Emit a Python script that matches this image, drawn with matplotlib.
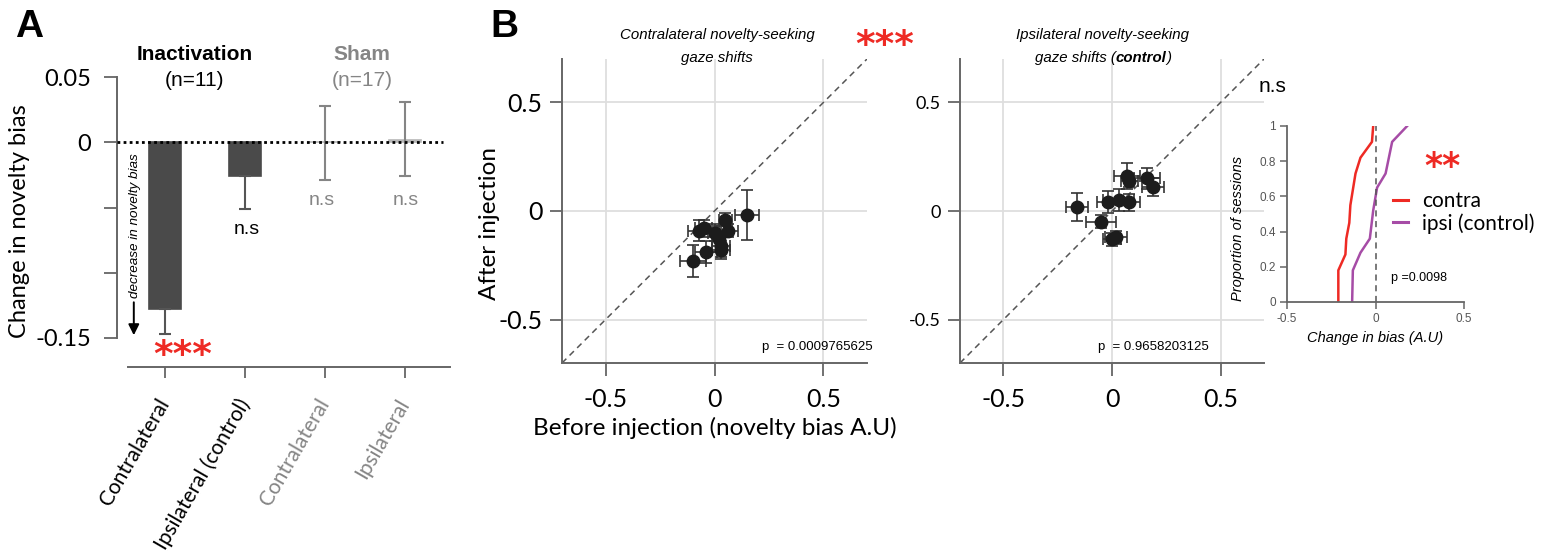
import matplotlib
matplotlib.use('Agg')
import matplotlib.pyplot as plt
from matplotlib import font_manager
from matplotlib.lines import Line2D
import numpy as np

# ---------------- data ----------------
bar_labels = ['Contralateral', 'Ipsilateral (control)', 'Contralateral', 'Ipsilateral']
bar_mean = [-0.128, -0.026, 0.0, 0.002]
bar_err_lo = [0.019, 0.025, 0.029, 0.028]
bar_err_hi = [0.0, 0.0, 0.028, 0.029]

contra_before = [0.15, -0.10, -0.04, -0.07, -0.05, 0.05, 0.06, 0.03, 0.03, 0.00, 0.02]
contra_after = [-0.02, -0.23, -0.19, -0.09, -0.08, -0.04, -0.09, -0.16, -0.18, -0.10, -0.13]
contra_xerr = [0.055, 0.06, 0.05, 0.05, 0.04, 0.03, 0.05, 0.04, 0.04, 0.03, 0.03]
contra_yerr = [0.115, 0.075, 0.05, 0.05, 0.04, 0.03, 0.03, 0.05, 0.04, 0.04, 0.06]

ipsi_before = [-0.16, -0.02, 0.03, 0.08, -0.05, 0.07, 0.16, 0.19, 0.00, 0.02, 0.08]
ipsi_after = [0.02, 0.04, 0.05, 0.04, -0.05, 0.16, 0.15, 0.11, -0.13, -0.12, 0.14]
ipsi_xerr = [0.05, 0.05, 0.07, 0.05, 0.07, 0.06, 0.06, 0.05, 0.04, 0.05, 0.04]
ipsi_yerr = [0.065, 0.05, 0.05, 0.04, 0.03, 0.06, 0.05, 0.04, 0.03, 0.03, 0.03]

cdf_contra_x = [-0.21, -0.21, -0.17, -0.165, -0.148, -0.142, -0.113, -0.085, -0.02, -0.013]
cdf_contra_y = [0.0, 0.18, 0.27, 0.36, 0.45, 0.55, 0.73, 0.82, 0.91, 1.0]
cdf_ipsi_x = [-0.132, -0.128, -0.085, -0.032, -0.013, 0.009, 0.057, 0.094, 0.179]
cdf_ipsi_y = [0.0, 0.18, 0.28, 0.36, 0.52, 0.65, 0.73, 0.91, 1.0]

p_contra = 'p  = 0.0009765625'
p_ipsi = 'p  = 0.9658203125'
p_cdf = 'p =0.0098'

# ---------------- setup ----------------
names = {f.name for f in font_manager.fontManager.ttflist}
NARROW = 'Liberation Sans Narrow' if 'Liberation Sans Narrow' in names else 'Liberation Sans'
ARIAL = 'Liberation Sans'
plt.rcParams['font.family'] = ['Lato', 'DejaVu Sans']
plt.rcParams['axes.unicode_minus'] = False

W, H = 1562, 560
fig = plt.figure(figsize=(W / 100, H / 100), dpi=100)


def fx(x):
    return x / W


def fy(y):
    return 1 - y / H


RED = '#ee2a24'
PURPLE = '#a64ca6'
DARK = '#4a4a4a'
GRAY = '#858585'
SPINE = '#666666'
TSIZE = 10.8  # italic titles

# ---------------- panel A ----------------
axA = fig.add_axes([fx(117), fy(338), 336 / W, 261 / H])
xs = np.arange(4)
colors = [DARK, DARK, '#b8b8b8', '#b8b8b8']
axA.bar(xs, bar_mean, width=0.4, color=colors, edgecolor=colors, linewidth=1.2, zorder=2)
axA.errorbar(xs[:2], bar_mean[:2], yerr=[bar_err_lo[:2], bar_err_hi[:2]], fmt='none',
             ecolor='#555555', elinewidth=1.5, capsize=4.5, capthick=1.5, zorder=3)
axA.errorbar(xs[2:], bar_mean[2:], yerr=[bar_err_lo[2:], bar_err_hi[2:]], fmt='none',
             ecolor=GRAY, elinewidth=1.5, capsize=4.5, capthick=1.5, zorder=3)
axA.plot([-0.6, 3.47], [0, 0], ls=(0, (1, 1.2)), color='k', lw=2, zorder=5, clip_on=False)
axA.set_xlim(-0.6, 3.6)
axA.set_ylim(-0.15, 0.05)
for s in ['top', 'right']:
    axA.spines[s].set_visible(False)
axA.spines['left'].set_bounds(-0.15, 0.05)
axA.spines['bottom'].set_position(('outward', 21))
axA.spines['bottom'].set_bounds(-0.46, 3.56)
for s in ['left', 'bottom']:
    axA.spines[s].set_color(SPINE)
    axA.spines[s].set_linewidth(1.4)
axA.set_yticks([0.05, 0, -0.05, -0.1, -0.15])
axA.set_yticklabels(['0.05', '0', '', '', '-0.15'], fontsize=17)
axA.set_xticks(xs)
axA.set_xticklabels(bar_labels, rotation=60, ha='right', va='center',
                    rotation_mode='anchor', fontsize=15)
for lab, c in zip(axA.get_xticklabels(), ['k', 'k', GRAY, GRAY]):
    lab.set_color(c)
axA.tick_params(axis='y', length=9.5, width=1.3, color=SPINE, pad=9)
axA.tick_params(axis='x', length=8, width=1.3, color=SPINE, pad=16)
axA.set_ylabel('Change in novelty bias', fontsize=17)
axA.yaxis.set_label_coords(-0.26, 0.448)

axA.annotate('', xy=(-0.39, -0.15), xytext=(-0.39, -0.1205),
             arrowprops=dict(arrowstyle='-|>', color='k', lw=1.4, mutation_scale=16))
axA.text(-0.37, -0.064, 'decrease in novelty bias', rotation=90, ha='center', va='center',
         family=NARROW, style='italic', fontsize=9.7)

fig.text(fx(183), fy(356), '***', color=RED, ha='center', va='center', fontsize=27,
         family='DejaVu Sans', weight='bold')
fig.text(fx(247), fy(229), 'n.s', ha='center', va='center', fontsize=14, family=ARIAL)
fig.text(fx(322), fy(200), 'n.s', ha='center', va='center', fontsize=14, family=ARIAL, color=GRAY)
fig.text(fx(406), fy(200), 'n.s', ha='center', va='center', fontsize=14, family=ARIAL, color=GRAY)
fig.text(fx(195), fy(55), 'Inactivation', ha='center', va='center', fontsize=15,
         family=ARIAL, weight='bold')
fig.text(fx(195), fy(81), '(n=11)', ha='center', va='center', fontsize=15, family=ARIAL)
fig.text(fx(362), fy(55), 'Sham', ha='center', va='center', fontsize=15,
         family=ARIAL, weight='bold', color=GRAY)
fig.text(fx(362), fy(81), '(n=17)', ha='center', va='center', fontsize=15, family=ARIAL, color=GRAY)

fig.text(fx(29), fy(27), 'A', ha='center', va='center', fontsize=28, family=ARIAL, weight='bold')
fig.text(fx(504), fy(27), 'B', ha='center', va='center', fontsize=28, family=ARIAL, weight='bold')


# ---------------- panel B scatter ----------------
def scatter_panel(ax, bx, ay, xe, ye, ptxt, ptx, ysize):
    ax.set_xlim(-0.7, 0.7)
    ax.set_ylim(-0.7, 0.7)
    ax.set_xticks([-0.5, 0, 0.5])
    ax.set_yticks([-0.5, 0, 0.5])
    ax.set_xticklabels(['-0.5', '0', '0.5'], fontsize=18)
    ax.set_yticklabels(['-0.5', '0', '0.5'], fontsize=ysize)
    ax.grid(color='#dedede', lw=1.3)
    ax.set_axisbelow(True)
    for s in ['top', 'right']:
        ax.spines[s].set_visible(False)
    for s in ['left', 'bottom']:
        ax.spines[s].set_color(SPINE)
        ax.spines[s].set_linewidth(1.4)
    ax.tick_params(length=9, width=1.3, color=SPINE)
    ax.tick_params(axis='x', pad=9)
    ax.tick_params(axis='y', pad=5)
    ax.plot([-0.7, 0.7], [-0.7, 0.7], ls=(0, (4, 3)), color='#555555', lw=1.1, zorder=1)
    ax.errorbar(bx, ay, xerr=xe, yerr=ye, fmt='o', ms=9, color='#1c1c1c', ecolor='#333333',
                elinewidth=1.2, capsize=4.3, capthick=1.2, zorder=3)
    ax.text(ptx, 0.053, ptxt, transform=ax.transAxes, ha='left', va='center',
            fontsize=9.5, family=ARIAL)


axB1 = fig.add_axes([fx(562), fy(363), 305 / W, 304 / H])
scatter_panel(axB1, contra_before, contra_after, contra_xerr, contra_yerr, p_contra, 0.656, 18)
axB1.set_xlabel('Before injection (novelty bias A.U)', fontsize=17.5, labelpad=4)
axB1.set_ylabel('After injection', fontsize=17.5)
axB1.yaxis.set_label_coords(-0.203, 0.46)

axB2 = fig.add_axes([fx(960), fy(363), 304 / W, 304 / H])
scatter_panel(axB2, ipsi_before, ipsi_after, ipsi_xerr, ipsi_yerr, p_ipsi, 0.454, 13)

fig.text(fx(717), fy(35), 'Contralateral novelty-seeking', ha='center', va='center',
         family=NARROW, style='italic', fontsize=TSIZE)
fig.text(fx(717), fy(58), 'gaze shifts', ha='center', va='center',
         family=NARROW, style='italic', fontsize=TSIZE)
fig.text(fx(1102), fy(35), 'Ipsilateral novelty-seeking', ha='center', va='center',
         family=NARROW, style='italic', fontsize=TSIZE)
t1 = fig.text(fx(1035), fy(58), 'gaze shifts (', ha='left', va='center',
              family=NARROW, style='italic', fontsize=TSIZE)
a1 = axB2.annotate('control', xy=(1, 0), xycoords=t1, ha='left', va='bottom',
                   family=NARROW, style='italic', weight='bold', fontsize=TSIZE)
axB2.annotate(')', xy=(1, 0), xycoords=a1, xytext=(-0.3, 0), textcoords='offset points',
              ha='left', va='bottom', family=NARROW, style='italic', fontsize=TSIZE)

fig.text(fx(885), fy(46), '***', color=RED, ha='center', va='center', fontsize=27,
         family='DejaVu Sans', weight='bold')
fig.text(fx(1273), fy(87), 'n.s', ha='center', va='center', fontsize=15, family=ARIAL)

# ---------------- inset CDF ----------------
axC = fig.add_axes([fx(1287), fy(302), 177 / W, 176 / H])
axC.patch.set_alpha(0)
axC.plot(cdf_contra_x, cdf_contra_y, color=RED, lw=1.8)
axC.plot(cdf_ipsi_x, cdf_ipsi_y, color=PURPLE, lw=1.8)
axC.axvline(0, color='#555555', ls=(0, (4, 3)), lw=1.1)
axC.set_xlim(-0.5, 0.5)
axC.set_ylim(0, 1)
axC.set_xticks([-0.5, 0, 0.5])
axC.set_xticklabels(['-0.5', '0', '0.5'])
axC.set_yticks([0, 0.2, 0.4, 0.6, 0.8, 1])
axC.set_yticklabels(['0', '0.2', '0.4', '0.6', '0.8', '1'])
for s in ['top', 'right']:
    axC.spines[s].set_visible(False)
for s in ['left', 'bottom']:
    axC.spines[s].set_color(SPINE)
    axC.spines[s].set_linewidth(1.3)
axC.tick_params(length=5, width=1.1, color=SPINE, labelsize=8.5, labelcolor='#555555', pad=3)
for lab in axC.get_xticklabels() + axC.get_yticklabels():
    lab.set_family(ARIAL)
axC.set_xlabel('Change in bias (A.U)', fontsize=10.5, family=ARIAL, style='italic', labelpad=4)
axC.set_ylabel('Proportion of sessions', fontsize=10.5, family=ARIAL, style='italic', labelpad=2)
axC.yaxis.set_label_coords(-0.24, 0.42)
axC.text(0.59, 0.135, p_cdf, transform=axC.transAxes, ha='left', va='center',
         fontsize=9, family=ARIAL)
fig.text(fx(1442), fy(167), '**', color=RED, ha='center', va='center', fontsize=25,
         family='DejaVu Sans', weight='bold')
handles = [Line2D([], [], color=RED, lw=2.2), Line2D([], [], color=PURPLE, lw=2.2)]
axC.legend(handles, ['contra', 'ipsi (control)'], loc='center left',
           bbox_to_anchor=(0.6, 0.51), frameon=False, handlelength=0.7, handletextpad=0.7,
           labelspacing=0.1, fontsize=15, borderaxespad=0, borderpad=0)

fig.savefig('out.png', dpi=100)
